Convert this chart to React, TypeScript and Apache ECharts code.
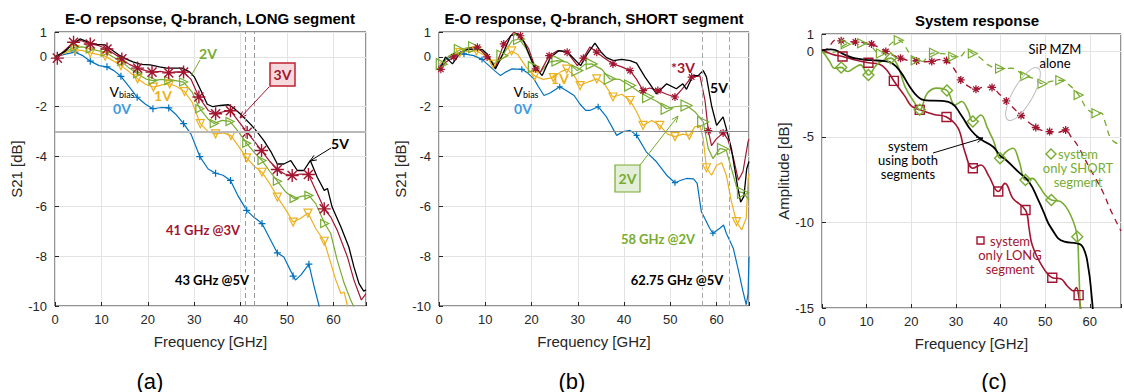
import React, { useEffect, useRef } from 'react';
import * as echarts from 'echarts';

// ---------- Panel (a): E-O response, LONG segment ----------
const A_0V = [[0,0],[2,0.1],[4.3,0.19],[6,0.05],[7.6,-0.17],[9.5,-0.35],[11.2,-0.4],[12.7,-0.55],[14.2,-0.78],[16,-1.2],[17.7,-1.62],[19.5,-1.9],[21.1,-2.08],[23,-2.03],[24.5,-2.05],[26,-2.3],[27.7,-2.68],[29.3,-3.1],[31.2,-4.0],[33,-4.5],[34.6,-4.67],[36.2,-4.75],[37.8,-4.96],[39.5,-5.6],[41.3,-6.16],[42.8,-6.43],[44.6,-6.69],[46.3,-7.3],[47.9,-7.87],[49.3,-8.03],[50.8,-8.6],[51.8,-8.96],[53,-8.75],[54.7,-8.32],[55.8,-9.2],[56.9,-10.0],[57.5,-10.5]];
const A_0V_MK = [[4.3,0.19],[7.6,-0.17],[11.2,-0.4],[14.2,-0.78],[17.7,-1.62],[21.1,-2.08],[24.5,-2.05],[27.7,-2.68],[31.2,-4.0],[34.6,-4.67],[37.8,-4.96],[41.3,-6.16],[44.6,-6.69],[47.9,-7.87],[51.3,-8.8],[54.7,-8.32]];
const A_1V = [[0,0],[2,0.15],[4.3,0.29],[6,0.25],[7.6,0.16],[9.2,0.1],[10.8,0.03],[12.5,-0.15],[14.2,-0.35],[16,-0.6],[17.8,-0.88],[19.5,-1.1],[21.2,-1.21],[23,-1.12],[24.7,-1.08],[26.3,-1.2],[27.9,-1.39],[29.5,-1.8],[31.3,-2.68],[33,-3.0],[34.6,-3.09],[36.3,-3.05],[37.9,-3.16],[39.6,-3.6],[41.3,-4.05],[43,-4.4],[44.6,-4.63],[46.3,-5.1],[47.9,-5.63],[49.6,-6.1],[51.3,-6.63],[52.8,-6.5],[54.5,-6.27],[56.2,-6.9],[58,-7.4],[59,-8.03],[60.5,-8.96],[61.6,-9.5],[62.3,-9.44],[63,-10],[63.5,-10.4]];
const A_1V_MK = [[4.3,0.29],[7.6,0.16],[10.8,0.03],[14.2,-0.35],[17.8,-0.88],[21.2,-1.21],[24.7,-1.08],[27.9,-1.39],[31.3,-2.68],[34.6,-3.09],[37.9,-3.16],[41.3,-4.05],[44.6,-4.63],[47.9,-5.63],[51.3,-6.63],[54.5,-6.27],[58,-7.4]];
const A_2V = [[0,0],[2,0.2],[4.3,0.39],[6,0.4],[7.6,0.32],[9.2,0.25],[10.8,0.19],[12.5,0.0],[14.4,-0.19],[16,-0.45],[17.8,-0.68],[19.5,-0.88],[21.1,-0.95],[23,-0.9],[24.5,-0.95],[26,-0.95],[27.7,-1.01],[29.5,-1.4],[31.2,-2.08],[33,-2.5],[34.3,-2.67],[36,-2.55],[37.7,-2.59],[39.5,-3.0],[41.3,-3.47],[43,-3.85],[44.6,-4.16],[46.3,-4.6],[47.9,-4.99],[49.6,-5.4],[51.5,-5.69],[53,-5.6],[54.7,-5.56],[56.2,-5.9],[58.1,-6.69],[59.4,-7.09],[60.8,-8.16],[62.3,-9.09],[63.7,-9.76],[64.3,-10],[64.8,-10.4]];
const A_2V_MK = [[4.3,0.39],[7.6,0.32],[10.8,0.19],[14.4,-0.19],[17.8,-0.68],[21.1,-0.95],[24.5,-0.95],[27.7,-1.01],[31.2,-2.08],[34.3,-2.67],[37.7,-2.59],[41.3,-3.47],[44.6,-4.16],[47.9,-4.99],[51.5,-5.69],[54.7,-5.56],[58.1,-6.69]];
const A_3V = [[0,-0.1],[2,0.25],[4,0.59],[5.5,0.66],[7.6,0.52],[9.5,0.45],[11.2,0.32],[12.8,0.12],[14.4,-0.08],[16,-0.3],[17.8,-0.45],[19.5,-0.55],[20.9,-0.61],[22.7,-0.58],[24.5,-0.64],[26,-0.6],[27.7,-0.61],[29.3,-0.9],[31,-1.61],[33,-2.15],[34.6,-2.28],[36.3,-2.2],[37.8,-2.16],[39.6,-2.6],[41.4,-3.03],[43,-3.4],[44.5,-3.76],[46.3,-4.2],[47.9,-4.52],[49.5,-4.7],[51.1,-4.76],[52.8,-4.7],[54.6,-4.72],[56.2,-5.36],[58,-6.1],[59.4,-6.43],[60.8,-6.96],[63,-8.03],[64.4,-8.96],[66,-9.76],[67,-9.5]];
const A_3V_MK = [[0.5,-0.05],[4,0.59],[7.6,0.52],[11.2,0.32],[14.4,-0.08],[17.8,-0.45],[20.9,-0.61],[24.5,-0.64],[27.7,-0.61],[31,-1.61],[34.6,-2.28],[37.8,-2.16],[41.4,-3.03],[44.5,-3.76],[47.9,-4.52],[51.1,-4.76],[54.6,-4.72],[58,-6.1]];
const A_5V = [[0,0],[2,0.2],[4,0.55],[5.4,0.72],[7.6,0.56],[9,0.5],[10.8,0.48],[12.5,0.25],[14,0.05],[15.5,-0.1],[16.8,-0.2],[18.5,-0.3],[20.5,-0.32],[22.5,-0.4],[24.1,-0.45],[26,-0.45],[27.4,-0.45],[29,-0.6],[30,-0.8],[31.3,-1.3],[32.8,-1.9],[34,-2.0],[35.6,-1.95],[37.4,-1.92],[38.5,-2.05],[40,-2.3],[42.1,-2.7],[43.5,-3.0],[45,-3.36],[46.5,-3.8],[47.9,-4.3],[49.3,-4.3],[50.8,-4.16],[52.2,-4.56],[53.6,-4.56],[55,-4.16],[56.5,-4.83],[58,-5.36],[58.7,-5.28],[59.7,-6.03],[61.6,-6.83],[63.3,-7.63],[64.4,-8.43],[65.5,-9.1],[66.5,-9.4],[67,-9.35]];
const A_THRESHOLD = -3;
const A_MARK_FREQS = [41, 43];

// ---------- Panel (b): E-O response, SHORT segment ----------
const B_0V = [[0,-0.4],[1.5,-0.1],[3,0.05],[5.4,0.12],[7.5,0.05],[9.3,-0.1],[10.8,-0.35],[12,-0.55],[13.3,-0.75],[14.5,-0.6],[15.8,-0.48],[17.9,-0.5],[19.2,-0.65],[20.5,-0.88],[21.5,-1.2],[22.7,-1.55],[24,-1.45],[26.1,-1.2],[27.5,-1.35],[29.2,-1.55],[30.5,-1.9],[31.7,-2.15],[32.6,-2.15],[34.4,-2.0],[36.2,-2.41],[38.4,-3.15],[39.8,-3.0],[41.3,-2.95],[42.7,-3.15],[44.8,-3.81],[47,-4.21],[49.2,-4.75],[51,-5.05],[52.3,-4.95],[53.5,-4.88],[55,-4.9],[55.8,-5.08],[56.7,-6.21],[58.5,-6.88],[59.2,-7.08],[60.7,-6.88],[61.5,-6.75],[62.1,-7.08],[63.6,-7.68],[64.6,-8.48],[65.7,-9.41],[66.4,-9.95],[66.8,-9.5],[67,-8.0]];
const B_0V_MK = [[5.4,0.12],[9.3,-0.1],[17.9,-0.5],[26.1,-1.2],[34.4,-2.0],[42.7,-3.15],[51,-5.05],[59.2,-7.08]];
const B_1V = [[0,-0.3],[1.5,-0.05],[3,0.1],[4.5,0.17],[6.3,0.22],[8.1,0.24],[10,0.05],[11.7,-0.29],[13.5,-0.1],[15.7,0.24],[17,0.1],[18.8,-0.4],[20.7,-0.76],[22.5,-0.9],[24.7,-0.83],[26.3,-0.6],[27.6,-0.49],[29.2,-0.75],[30.5,-1.15],[32.3,-1.0],[34.1,-0.88],[35.8,-1.1],[37.6,-1.61],[39.5,-1.5],[41.3,-1.75],[42.7,-2.2],[44.1,-2.75],[46,-2.55],[47.7,-2.75],[49.4,-3.1],[51,-3.2],[52.7,-3.1],[54.1,-3.15],[55.3,-2.81],[56.4,-2.75],[57.1,-3.28],[57.8,-4.45],[58.9,-4.75],[60,-4.35],[61.1,-4.25],[62.1,-4.75],[63.2,-5.81],[64.3,-6.61],[65.4,-6.95],[66.4,-6.48],[66.8,-4.9],[67,-4.7]];
const B_1V_MK = [[4.5,0.17],[8.1,0.24],[11.7,-0.29],[15.7,0.24],[20.7,-0.76],[24.7,-0.83],[27.6,-0.49],[30.5,-1.15],[34.1,-0.88],[37.6,-1.61],[41.3,-1.75],[44.1,-2.75],[47.7,-2.75],[51,-3.2],[54.1,-3.15],[57.8,-4.45],[64.3,-6.61]];
const B_2V = [[0,-0.4],[0.6,-0.29],[2.2,0.05],[4.5,0.28],[6,0.36],[7.6,0.39],[9.7,0.19],[11.9,-0.28],[13.7,0.05],[15.8,0.65],[17.3,0.72],[18.9,0.32],[20.5,-0.41],[21.9,-0.61],[23.8,-0.21],[25.6,-0.15],[27.7,-0.21],[29.9,-0.55],[31.5,-0.3],[33,-0.28],[35.2,-0.5],[36.9,-0.88],[39,-0.9],[41.3,-1.15],[43.2,-1.4],[45.2,-1.61],[47.3,-1.81],[49.2,-2.08],[51,-2.0],[53.5,-1.95],[55.3,-2.2],[57.1,-2.61],[58.2,-3.68],[59.2,-4.08],[60.7,-3.68],[61.4,-3.7],[62.1,-3.75],[63.6,-4.75],[64.6,-5.41],[65.7,-5.45],[66.8,-5.69],[67,-5.75]];
const B_2V_MK = [[0.6,-0.29],[4.5,0.28],[7.6,0.39],[13.7,0.05],[17.3,0.72],[20.5,-0.41],[25.6,-0.15],[29.9,-0.55],[33,-0.28],[36.9,-0.88],[41.3,-1.15],[45.2,-1.61],[49.2,-2.08],[53.5,-1.95],[57.1,-2.61],[61.4,-3.7],[65.7,-5.45]];
const B_3V = [[0,-0.55],[1.5,-0.2],[3.2,0],[4.7,0.2],[6.5,0.35],[8.3,0.39],[10.4,0],[12.2,-0.41],[14,0.52],[16.2,0.99],[17.6,0.85],[19.4,0.32],[20.9,-0.48],[21.9,-0.61],[23.8,0.05],[25.6,0.25],[27.7,0.19],[29.9,-0.35],[31.2,-0.05],[32.6,0.4],[34.1,0.19],[35.8,-0.05],[37.6,-0.28],[39.5,-0.4],[41.3,-0.55],[42.7,-0.9],[44.1,-1.35],[45.5,-1.25],[47.3,-1.35],[49.2,-1.5],[51,-1.61],[52.5,-1.3],[54.6,-0.81],[56.4,-0.76],[57.5,-1.76],[58.2,-2.96],[58.9,-3.56],[59.9,-3.3],[61.4,-3.05],[62.4,-3.3],[63.6,-4.03],[64.7,-4.95],[65.7,-4.6],[66.8,-3.4],[67,-3.3]];
const B_3V_MK = [[0.4,-0.5],[3.2,0],[8.3,0.39],[10.4,0],[14,0.52],[17.6,0.85],[20.9,-0.48],[23.8,0.05],[27.7,0.19],[31.2,-0.05],[34.1,0.19],[37.6,-0.28],[41.3,-0.55],[44.1,-1.35],[47.3,-1.35],[51,-1.61],[54.6,-0.81],[58.2,-2.96],[61.4,-3.05]];
const B_5V = [[0,-0.5],[0.7,-0.3],[1.4,0],[2.9,-0.28],[4.7,0.19],[6.1,0.29],[8,0.32],[9.4,0.29],[10.4,0.12],[12.2,-0.48],[13.3,-0.08],[15.5,0.85],[16.9,0.92],[18.4,0.59],[20.5,-0.35],[22.3,-0.75],[24.1,-0.01],[25.9,0.25],[27.7,0.21],[30.6,-0.35],[32,0.1],[33.7,0.55],[35,0.2],[36.2,-0.03],[37.7,-0.15],[39.5,-0.1],[41.3,-0.15],[42.7,-0.25],[44.5,-0.8],[45.6,-1.09],[47,-1.48],[47.7,-1.35],[49.2,-1.08],[51.3,-1.28],[52.7,-1.08],[53.5,-1.3],[54.9,-0.75],[56,-0.75],[57.1,-0.55],[57.8,-0.8],[58.9,-1.95],[60,-2.75],[61.4,-2.41],[62.1,-2.88],[63.2,-3.68],[64.6,-5.28],[65.2,-5.83],[65.9,-5.6],[66.5,-4.5],[67,-4.2]];
const B_MARK_FREQS = [57, 62.75];

// ---------- Panel (c): System response ----------
const C_BOTH = [[0,0.05],[2,0.1],[5.3,-0.23],[7.5,-0.43],[11,-0.53],[14,-0.58],[15.8,-0.72],[17.6,-1.21],[19.7,-2.09],[21.5,-2.67],[23.3,-2.87],[26.9,-2.91],[29.1,-3.06],[31.2,-3.74],[33.4,-4.62],[35.6,-5.15],[38.4,-5.6],[39.9,-6.1],[41.3,-6.37],[44.2,-7.1],[46.4,-7.64],[48.5,-8.71],[49.5,-9.3],[51.4,-10.35],[54.3,-11.13],[57.2,-11.23],[58.6,-11.52],[59.7,-12.69],[60.4,-14.25],[60.8,-15.5]];
const C_SHORT = [[0,0],[0.7,-0.21],[1.7,-0.6],[2.8,-1.0],[4.3,-0.95],[5.7,-1.19],[7.1,-1.0],[8.6,-0.8],[10.4,-1.39],[12.2,-0.8],[14,-0.51],[15.4,-0.41],[16.9,-0.8],[18.6,-2.07],[20.8,-3.04],[21.9,-3.43],[23.6,-2.46],[25.8,-2.16],[28,-2.3],[29.8,-3.14],[31.3,-2.94],[32.7,-3.45],[33.8,-4.11],[35.6,-3.73],[37.1,-4.5],[38.5,-5.28],[39.9,-6.26],[41.3,-5.87],[42.8,-5.67],[44.2,-6.45],[45.6,-7.52],[47.1,-7.43],[48.5,-7.82],[50,-8.4],[51.4,-8.69],[53.5,-8.79],[55.7,-9.57],[57.2,-10.84],[57.5,-12.3],[57.9,-15.5]];
const C_SHORT_MK = [[4.3,-0.95],[10.4,-1.39],[15.4,-0.41],[21.9,-3.43],[28,-2.3],[33.8,-4.11],[39.9,-6.26],[45.6,-7.52],[51.4,-8.69],[57.2,-10.84]];
const C_LONG = [[0,0.08],[2.4,-0.2],[4.6,-0.31],[7.2,-0.5],[10.4,-0.68],[12.9,-0.76],[14.5,-1.1],[16.1,-1.74],[18.6,-2.64],[20,-3.2],[21.9,-3.43],[25.1,-3.7],[27.9,-3.85],[30.5,-4.5],[32,-5.87],[33.8,-6.84],[35.6,-6.65],[37.4,-7.3],[39.5,-8.2],[41,-7.72],[42.8,-8.6],[45.6,-9.28],[46.4,-10.35],[47.1,-11.32],[49.2,-12.5],[51.6,-13.23],[53.6,-13.3],[54.9,-13.7],[56.4,-14],[57,-13.8],[57.5,-14.25],[58.2,-15.5]];
const C_LONG_MK = [[4.6,-0.31],[10.4,-0.68],[16.1,-1.74],[21.9,-3.43],[27.9,-3.85],[33.8,-6.84],[39.5,-8.2],[45.6,-9.28],[51.6,-13.23],[57.5,-14.25]];
const C_MZM_L = [[0,0.05],[1,0.1],[3.2,0.66],[4.3,0.6],[7.5,0.53],[9.5,0.5],[11.1,0.41],[12.8,0.2],[14.3,-0.02],[16,-0.25],[17.6,-0.41],[19.5,-0.55],[21.2,-0.57],[23,-0.62],[24.6,-0.6],[26.3,-0.5],[27.9,-0.55],[29.5,-1.0],[31.1,-1.68],[32.8,-2.05],[34.5,-2.22],[36.3,-2.1],[38.1,-2.12],[39.7,-2.5],[41.3,-2.91],[43,-3.35],[44.6,-3.76],[46.3,-4.15],[47.9,-4.46],[49.5,-4.65],[51,-4.7],[52.8,-4.75],[54.6,-4.6],[55.8,-5.0],[57.2,-5.48],[60,-6.84],[62.9,-8.2],[64.7,-9.3],[67,-10.5]];
const C_MZM_L_MK = [[4.3,0.6],[7.5,0.53],[11.1,0.41],[14.3,-0.02],[17.6,-0.41],[21.2,-0.57],[24.6,-0.6],[27.9,-0.55],[31.1,-1.68],[34.5,-2.22],[38.1,-2.12],[41.3,-2.91],[44.6,-3.76],[47.9,-4.46],[51,-4.7],[54.6,-4.6]];
const C_MZM_S = [[0,0],[1,-0.1],[3,-0.05],[5.3,0.4],[7,0.45],[9,0.46],[11,0.3],[12,0.0],[13.2,-0.14],[14.5,0.2],[16,0.55],[17.2,0.64],[18.8,0.2],[20,-0.3],[21,-0.53],[22.5,-0.6],[24,-0.2],[25.1,-0.1],[27,-0.15],[28.5,-0.2],[29.4,-0.33],[31,-0.3],[32.5,0.05],[33.8,-0.14],[35.5,-0.4],[37.5,-0.85],[39.9,-1.01],[42.5,-1.0],[45.5,-1.46],[47.5,-1.6],[49.4,-1.9],[51.5,-1.75],[53.4,-1.7],[55.5,-2.0],[57.5,-2.56],[59.5,-3.4],[61.5,-3.63],[62.5,-3.6],[63.5,-4.2],[64.5,-5.0],[65.5,-5.3],[67,-5.5]];
const C_MZM_S_MK = [[5.3,0.4],[9,0.46],[13.2,-0.14],[17.2,0.64],[21,-0.53],[25.1,-0.1],[29.4,-0.33],[33.8,-0.14],[39.9,-1.01],[45.5,-1.46],[49.4,-1.9],[53.4,-1.7],[57.5,-2.56],[61.5,-3.63]];

const TITLES = ['E-O repsonse, Q-branch, LONG segment', 'E-O response, Q-branch, SHORT segment', 'System response'];
const PANEL_LABELS = ['(a)', '(b)', '(c)'];
const X_NAME = 'Frequency [GHz]';
const Y_NAMES = ['S21 [dB]', 'S21 [dB]', 'Amplitude [dB]'];

const BLUE = '#0072BD', ORANGE = '#EDB120', GREEN = '#77AC30', RED = '#A2142F', BLACK = '#000000';
const AX = '#262626';
const SANS = '"Liberation Sans", Arial, Helvetica, sans-serif';
const CAL = 'Lato, "Open Sans", sans-serif';

const S_PLUS = 'path://M0,-1L0,1M-1,0L1,0';
const S_AST = 'path://M0,-1L0,1M-1,0L1,0M-0.7,-0.7L0.7,0.7M-0.7,0.7L0.7,-0.7';
const S_TRI_R = 'path://M-1,-1L1,0L-1,1Z';
const S_TRI_D = 'path://M-1,-1L1,-1L0,1Z';
const S_DIAM = 'path://M0,-1L1,0L0,1L-1,0Z';
const S_SQ = 'path://M-1,-1L1,-1L1,1L-1,1Z';

function line(data: number[][], color: string, g: number, width = 1.2, extra: any = {}) {
  return {
    type: 'line', xAxisIndex: g, yAxisIndex: g, data, symbol: 'none', showSymbol: false,
    lineStyle: { color, width, ...(extra.lineStyle || {}) }, itemStyle: { color },
    smooth: extra.smooth ?? false, z: extra.z ?? 2, silent: true, clip: true,
    markLine: extra.markLine,
  };
}
function marks(data: number[][], color: string, g: number, symbol: string, size: number, bw = 1.2) {
  return {
    type: 'scatter', xAxisIndex: g, yAxisIndex: g, data, symbol, symbolSize: size,
    itemStyle: { color: 'rgba(0,0,0,0)', borderColor: color, borderWidth: bw, opacity: 1 },
    z: 4, silent: true, clip: false,
  };
}

function arrow(x1: number, y1: number, x2: number, y2: number, color: string, head = true) {
  const els: any[] = [{ type: 'line', shape: { x1, y1, x2, y2 }, style: { stroke: color, lineWidth: 1 }, z: 20 }];
  if (head) {
    const a = Math.atan2(y2 - y1, x2 - x1), L = 7, s = 0.4;
    els.push({
      type: 'polyline', z: 20,
      shape: { points: [[x2 - L * Math.cos(a - s), y2 - L * Math.sin(a - s)], [x2, y2], [x2 - L * Math.cos(a + s), y2 - L * Math.sin(a + s)]] },
      style: { stroke: color, lineWidth: 1, fill: null },
    });
  }
  return els;
}
function txt(text: string, x: number, y: number, color: string, size = 14, weight: any = 'bold', family = CAL, extra: any = {}) {
  return { type: 'text', z: 21, style: { text, x, y, fill: color, fontSize: size, fontWeight: weight, fontFamily: family, align: 'center', verticalAlign: 'middle', ...extra } };
}
function vbias(x: number, y: number) {
  return { type: 'text', z: 21, style: { text: '{a|V}{b|bias}', x, y, align: 'center', verticalAlign: 'middle', rich: { a: { fontSize: 14, fontFamily: CAL, fill: '#000', color: '#000' }, b: { fontSize: 9, fontFamily: CAL, fill: '#000', color: '#000', padding: [6, 0, 0, 0] } } } };
}

const GRIDS = [
  { left: 55, top: 32, width: 311, height: 274 },
  { left: 439, top: 32, width: 310, height: 274 },
  { left: 822, top: 34, width: 310, height: 274 },
];

export default function App() {
  const ref = useRef<HTMLDivElement>(null);
  useEffect(() => {
    const chart = echarts.init(ref.current!, undefined, { renderer: 'svg' });
    const xAxes = GRIDS.map((_, i) => ({
      gridIndex: i, type: 'value', min: 0, max: 67, interval: 10, position: 'bottom',
      axisLine: { show: false, onZero: false },
      axisTick: { show: true, inside: true, length: 4, lineStyle: { color: AX } },
      axisLabel: { color: AX, fontSize: 13, fontFamily: SANS, margin: 7, formatter: (v: number) => (v % 10 === 0 ? String(v) : '') },
      splitLine: { show: true, lineStyle: { color: '#e3e3e3', width: 1 } },
      name: X_NAME, nameLocation: 'middle', nameGap: 28,
      nameTextStyle: { color: AX, fontSize: 15, fontFamily: SANS },
    }));
    const yAxes = GRIDS.map((_, i) => ({
      gridIndex: i, type: 'value', min: i === 2 ? -15 : -10, max: 1, interval: i === 2 ? 5 : 2, position: 'left',
      axisLine: { show: false, onZero: false },
      axisTick: { show: true, inside: true, length: 4, lineStyle: { color: AX } },
      axisLabel: { color: AX, fontSize: 13, fontFamily: SANS, margin: 8 },
      splitLine: { show: true, lineStyle: { color: '#e3e3e3', width: 1 } },
      name: Y_NAMES[i], nameLocation: 'middle', nameGap: i === 2 ? 28 : 31, nameRotate: 90,
      nameTextStyle: { color: AX, fontSize: 15, fontFamily: SANS },
    }));

    const mlA = {
      silent: true, symbol: 'none', label: { show: false }, animation: false,
      data: [
        { yAxis: A_THRESHOLD, lineStyle: { color: '#b8b8b8', width: 2, type: 'solid' } },
        ...A_MARK_FREQS.map((f) => ({ xAxis: f, lineStyle: { color: '#9a9a9a', width: 1, type: [5, 3] } })),
      ],
    };
    const mlB = {
      silent: true, symbol: 'none', label: { show: false }, animation: false,
      data: [
        { yAxis: A_THRESHOLD, lineStyle: { color: '#8c8c8c', width: 1, type: 'solid' } },
        ...B_MARK_FREQS.map((f) => ({ xAxis: f, lineStyle: { color: '#a8a8a8', width: 1, type: [5, 3] } })),
      ],
    };

    const series: any[] = [
      line(A_0V, BLUE, 0, 1.2, { markLine: mlA }),
      line(A_1V, ORANGE, 0),
      line(A_2V, GREEN, 0),
      line(A_3V, RED, 0),
      line(A_5V, BLACK, 0, 1.3, { z: 3 }),
      marks(A_0V_MK, BLUE, 0, S_PLUS, 7),
      marks(A_1V_MK, ORANGE, 0, S_TRI_D, 8),
      marks(A_2V_MK, GREEN, 0, S_TRI_R, 8),
      marks(A_3V_MK, RED, 0, S_AST, 13, 1.4),
      line(B_0V, BLUE, 1, 1.2, { markLine: mlB }),
      line(B_1V, ORANGE, 1),
      line(B_2V, GREEN, 1),
      line(B_3V, RED, 1),
      line(B_5V, BLACK, 1, 1.3, { z: 3 }),
      marks(B_0V_MK, BLUE, 1, S_PLUS, 6),
      marks(B_1V_MK, ORANGE, 1, S_TRI_D, 8),
      marks(B_2V_MK, GREEN, 1, S_TRI_R, 11),
      marks(B_3V_MK, RED, 1, S_AST, 8, 1.2),
      line(C_MZM_L, RED, 2, 1.3, { lineStyle: { type: [6, 5] }, smooth: 0.4 }),
      line(C_MZM_S, GREEN, 2, 1.3, { lineStyle: { type: [6, 5] }, smooth: 0.4 }),
      line(C_LONG, RED, 2, 1.6, { smooth: 0.4 }),
      line(C_SHORT, GREEN, 2, 1.6, { smooth: 0.4 }),
      line(C_BOTH, BLACK, 2, 1.8, { smooth: 0.5, z: 3 }),
      marks(C_MZM_L_MK, RED, 2, S_AST, 8, 1.3),
      marks(C_MZM_S_MK, GREEN, 2, S_TRI_R, 9),
      marks(C_LONG_MK, RED, 2, S_SQ, 9, 1.4),
      marks(C_SHORT_MK, GREEN, 2, S_DIAM, 11, 1.4),
    ];

    const graphic: any[] = [
      txt(TITLES[0], 210, 18, '#000', 15, 'bold', SANS),
      txt(TITLES[1], 594, 18, '#000', 15, 'bold', SANS),
      txt(TITLES[2], 977, 20, '#000', 15, 'bold', SANS),
      txt(PANEL_LABELS[0], 150, 381, '#000', 22, 'normal', SANS),
      txt(PANEL_LABELS[1], 572, 381, '#000', 22, 'normal', SANS),
      txt(PANEL_LABELS[2], 994, 381, '#000', 22, 'normal', SANS),
      // (a)
      txt('2V', 208, 53, GREEN, 14),
      ...arrow(200, 60, 191, 76, GREEN, false),
      { type: 'rect', z: 20, shape: { x: 270, y: 63, width: 25, height: 23 }, style: { fill: '#f6d9dc', stroke: '#c0202f', lineWidth: 1.5 } },
      txt('3V', 282.5, 74.5, RED, 14),
      ...arrow(269, 87, 240, 118, RED),
      vbias(122, 91),
      txt('1V', 163, 95, ORANGE, 14),
      txt('0V', 122, 108, '#3d9be0', 14),
      txt('5V', 340, 143, '#000', 14),
      ...arrow(331, 148, 310, 161, '#000'),
      txt('41 GHz @3V', 203, 230, RED, 13, 'bold', CAL, { backgroundColor: '#fff', padding: [1, 2] }),
      txt('43 GHz @5V', 212, 280, '#000', 13, 'bold', CAL, { backgroundColor: '#fff', padding: [1, 2] }),
      // (b)
      txt('1V', 560, 78, ORANGE, 14),
      vbias(526, 91),
      txt('0V', 523, 108, '#3d9be0', 14),
      txt('*3V', 683, 67, RED, 14),
      txt('5V', 719, 87, '#000', 14),
      { type: 'rect', z: 20, shape: { x: 615, y: 165, width: 25, height: 27 }, style: { fill: '#e4efd9', stroke: GREEN, lineWidth: 1.2 } },
      txt('2V', 627.5, 178.5, GREEN, 14),
      ...arrow(640, 165, 678, 116, GREEN),
      txt('58 GHz @2V', 658, 239, GREEN, 13, 'bold', CAL, { backgroundColor: '#fff', padding: [1, 2] }),
      txt('62.75 GHz @5V', 677, 280, '#000', 13, 'bold', CAL, { backgroundColor: '#fff', padding: [1, 2] }),
      // (c)
      txt('SiP MZM\nalone', 1055, 56, '#000', 13, 'normal', CAL, { lineHeight: 14 }),
      { type: 'ellipse', z: 20, x: 1023, y: 94, rotation: -Math.PI / 6, shape: { cx: 0, cy: 0, rx: 10, ry: 30 }, style: { fill: null, stroke: '#bdbdbd', lineWidth: 1 } },
      txt('system\nusing both\nsegments', 908, 160, '#000', 13, 'normal', CAL, { lineHeight: 14 }),
      ...arrow(933, 153, 983, 138, '#000'),
      { type: 'polygon', z: 20, shape: { points: [[1051, 149], [1056, 154], [1051, 159], [1046, 154]] }, style: { fill: null, stroke: GREEN, lineWidth: 1.4 } },
      txt('system\nonly SHORT\nsegment', 1078, 168, GREEN, 13, 'normal', CAL, { lineHeight: 14 }),
      { type: 'rect', z: 20, shape: { x: 977, y: 237, width: 7, height: 7 }, style: { fill: null, stroke: RED, lineWidth: 1.4 } },
      txt('system\nonly LONG\nsegment', 1010, 255, RED, 13, 'normal', CAL, { lineHeight: 14 }),
    ];

    chart.setOption({
      animation: false,
      backgroundColor: '#fff',
      grid: GRIDS.map((g) => ({ ...g, show: true, borderColor: AX, borderWidth: 1, backgroundColor: 'transparent', containLabel: false })),
      xAxis: xAxes,
      yAxis: yAxes,
      series,
      graphic,
    });
    return () => chart.dispose();
  }, []);
  return <div ref={ref} style={{ position: 'fixed', left: 0, top: 0, width: 1124, height: 392, background: '#fff' }} />;
}
